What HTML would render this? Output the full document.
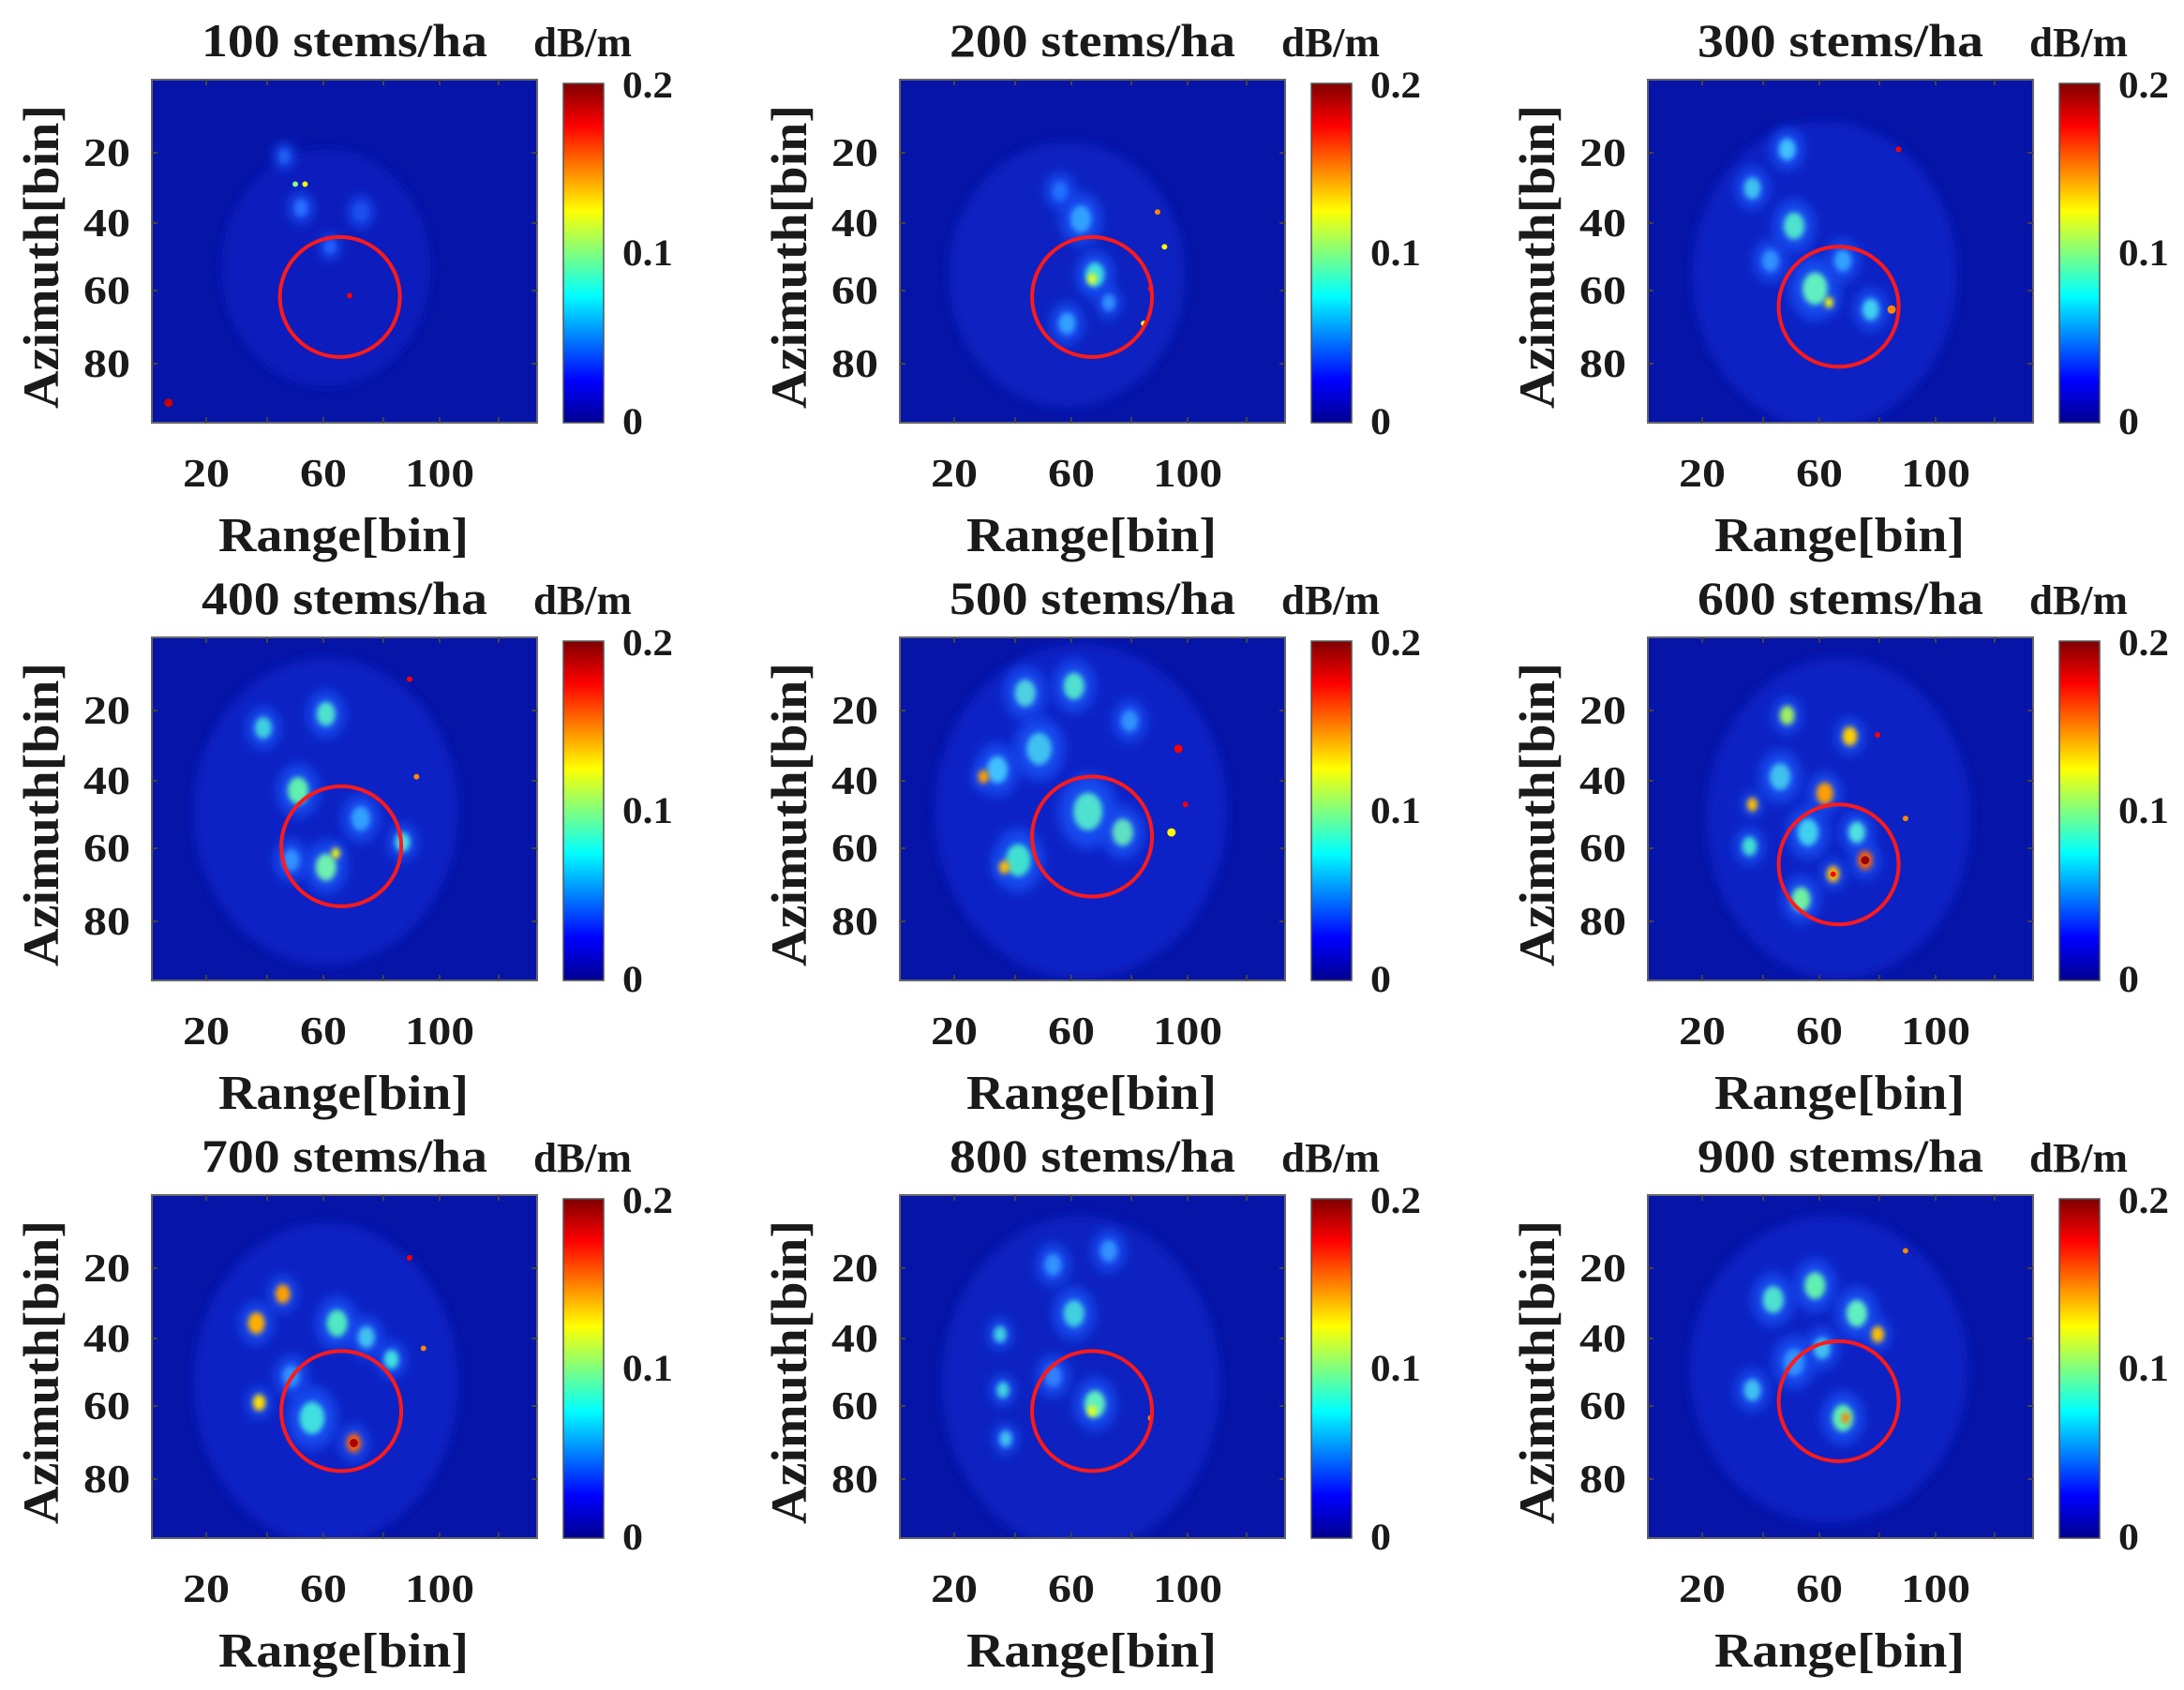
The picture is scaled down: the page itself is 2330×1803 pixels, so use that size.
<!DOCTYPE html>
<html><head><meta charset="utf-8"><style>
html,body{margin:0;padding:0;background:#fff;width:2330px;height:1803px;overflow:hidden}
svg text{font-family:"Liberation Serif",serif;font-weight:bold;fill:#1a1a1a}
</style></head><body>
<svg id="s" width="2330" height="1803" xmlns="http://www.w3.org/2000/svg"></svg>
<script>
const S=1.486;
const D=[
 {t:"100",disc:[125,135,75,85,'#0a1ebc'],c:[135,156],b:[[95,55,5,'#2060f0'],[107,92,6,'#2a70ff'],[103,75,2,'#8f8'],[110,75,2,'#ff0'],[150,95,6,'#1a50f0'],[142,155,2,'#f00'],[12,232,3,'#c00'],[128,120,5,'#2060ff']]},
 {t:"200",disc:[120,140,85,95,'#0a20c0'],c:[138,156],b:[[130,100,10,'#30a0ff'],[140,140,9,'#40e0e0'],[138,143,4,'#ff0'],[120,175,8,'#30a0ff'],[150,160,6,'#3090ff'],[115,80,7,'#2070ff'],[185,95,2,'#f80'],[190,120,2,'#ff0'],[180,150,2,'#f00'],[175,175,2,'#ff0']]},
 {t:"300",disc:[127,140,95,110,'#0a22c4'],c:[137,163],b:[[75,78,8,'#40c0f0'],[100,50,8,'#40c0ff'],[105,105,10,'#50e0d0'],[120,150,12,'#60f0c0'],[130,160,4,'#ff0'],[140,130,8,'#30a0ff'],[160,165,8,'#40d0f0'],[88,130,8,'#3090ff'],[175,165,3,'#f80'],[180,50,2,'#f00']]},
 {t:"400",disc:[125,125,95,110,'#0a22c4'],c:[136,150],b:[[80,65,8,'#40d0e0'],[125,55,9,'#50e0d0'],[105,110,10,'#60f0b0'],[125,165,10,'#70f0b0'],[132,155,4,'#ff0'],[180,147,7,'#50e0e0'],[100,160,8,'#3090ff'],[150,130,9,'#30a0ff'],[185,30,2,'#f00'],[190,100,2,'#f80']]},
 {t:"500",disc:[130,125,105,120,'#0a22c6'],c:[138,143],b:[[70,95,10,'#40c0ff'],[60,100,5,'#ffa000'],[90,40,10,'#50d0e0'],[125,35,10,'#50e0d0'],[100,80,12,'#40c0f0'],[135,125,14,'#50e0d0'],[160,140,10,'#60e0c0'],[85,160,12,'#40e0d0'],[165,60,8,'#3090ff'],[200,80,3,'#f00'],[75,165,5,'#ffc000'],[195,140,3,'#ff0'],[205,120,2,'#f00']]},
 {t:"600",disc:[137,130,95,115,'#0a22c4'],c:[137,163],b:[[156,160,7,'#ff6000'],[156,160,3,'#900'],[133,170,6,'#ffc000'],[133,170,2,'#f00'],[73,150,7,'#40e0d0'],[75,120,5,'#ffc000'],[145,71,7,'#ffd000'],[127,112,8,'#ffa000'],[100,56,7,'#a0f060'],[110,188,9,'#70f0a0'],[95,100,10,'#40c0f0'],[115,140,10,'#40d0f0'],[150,140,8,'#50e0e0'],[165,70,2,'#f00'],[185,130,2,'#f80']]},
 {t:"700",disc:[125,135,95,115,'#0a22c4'],c:[136,155],b:[[75,92,8,'#ffb000'],[94,71,7,'#ffa000'],[133,92,10,'#50e8c0'],[145,178,7,'#ff6000'],[145,178,3,'#a00'],[115,160,12,'#40e0e0'],[77,149,6,'#ffe000'],[172,118,7,'#40e0e0'],[154,102,8,'#40c0f0'],[100,130,8,'#3090ff'],[185,45,2,'#f00'],[195,110,2,'#f80']]},
 {t:"800",disc:[130,135,100,120,'#0a20c0'],c:[138,155],b:[[72,100,6,'#40d0e0'],[74,140,6,'#40d0e0'],[76,175,6,'#40c0f0'],[125,85,10,'#40d0e0'],[140,150,10,'#60f0c0'],[138,155,4,'#ff0'],[110,50,8,'#3090ff'],[150,40,8,'#3090ff'],[110,130,8,'#3080ff'],[180,160,2,'#f80']]},
 {t:"900",disc:[130,125,100,110,'#0a22c4'],c:[137,148],b:[[90,75,10,'#50e0d0'],[120,65,10,'#60f0b0'],[150,85,10,'#60f0c0'],[165,100,6,'#ffc000'],[140,160,10,'#60f0b0'],[142,160,4,'#ff8000'],[75,140,8,'#40c0f0'],[105,120,10,'#3090ff'],[125,110,8,'#40c0f0'],[185,40,2,'#f80']]}
];
let o=`<defs><linearGradient id="jet" x1="0" y1="1" x2="0" y2="0">
<stop offset="0" stop-color="#00008f"/><stop offset="0.125" stop-color="#0000ff"/><stop offset="0.375" stop-color="#00ffff"/><stop offset="0.625" stop-color="#ffff00"/><stop offset="0.875" stop-color="#ff0000"/><stop offset="1" stop-color="#800000"/></linearGradient>
<filter id="bl" x="-50%" y="-50%" width="200%" height="200%"><feGaussianBlur stdDeviation="3"/></filter>
<filter id="bh" x="-50%" y="-50%" width="200%" height="200%"><feGaussianBlur stdDeviation="6"/></filter>
<filter id="bd" x="-20%" y="-20%" width="140%" height="140%"><feGaussianBlur stdDeviation="6"/></filter></defs>`;
D.forEach((p,i)=>{
 const c=i%3,r=Math.floor(i/3);
 const L=162+798*c,T=85+595*r,W=411,H=366;
 o+=`<clipPath id="c${i}"><rect x="${L}" y="${T}" width="${W}" height="${H}"/></clipPath>`;
 o+=`<rect x="${L}" y="${T}" width="${W}" height="${H}" fill="#0614a8"/>`;
 o+=`<g clip-path="url(#c${i})">`;
 const d=p.disc;
 o+=`<ellipse cx="${L+d[0]*S}" cy="${T+d[1]*S}" rx="${d[2]*S}" ry="${d[3]*S}" fill="${d[4]}" filter="url(#bd)"/>`;
 p.b.forEach(b=>{if(b[2]>3)o+=`<ellipse cx="${L+b[0]*S}" cy="${T+b[1]*S}" rx="${b[2]*S*1.5}" ry="${b[2]*S*1.9}" fill="#1448ee" filter="url(#bh)"/>`;});
 p.b.forEach(b=>{const rr=b[2]>3?b[2]*S*0.75:b[2]*S;o+=`<ellipse cx="${L+b[0]*S}" cy="${T+b[1]*S}" rx="${rr}" ry="${b[2]>3?rr*1.3:rr}" fill="${b[3]}" ${b[2]>3?'filter="url(#bl)"':''}/>`;});
 o+=`</g>`;
 o+=`<rect x="${L}" y="${T}" width="${W}" height="${H}" fill="none" stroke="#666" stroke-width="2"/>`;
 [58,123,183,247,307,370].forEach(x=>{o+=`<line x1="${L+x}" y1="${T+H}" x2="${L+x}" y2="${T+H-6}" stroke="#444" stroke-width="2"/><line x1="${L+x}" y1="${T}" x2="${L+x}" y2="${T+6}" stroke="#444" stroke-width="2"/>`;});
 [78,153,225,303].forEach(y=>{o+=`<line x1="${L}" y1="${T+y}" x2="${L+6}" y2="${T+y}" stroke="#444" stroke-width="2"/><line x1="${L+W}" y1="${T+y}" x2="${L+W-6}" y2="${T+y}" stroke="#444" stroke-width="2"/>`;});
 o+=`<circle cx="${L+p.c[0]*S}" cy="${T+p.c[1]*S}" r="64" fill="none" stroke="#ff1a1a" stroke-width="4"/>`;
 o+=`<rect x="${L+439}" y="${T+4}" width="43" height="${H-4}" fill="url(#jet)" stroke="#555" stroke-width="1.5"/>`;
 o+=`<text x="${L+502}" y="${T+19}" font-size="40" textLength="54" lengthAdjust="spacingAndGlyphs">0.2</text>`;
 o+=`<text x="${L+502}" y="${T+198}" font-size="40" textLength="54" lengthAdjust="spacingAndGlyphs">0.1</text>`;
 o+=`<text x="${L+502}" y="${T+378}" font-size="40" textLength="22" lengthAdjust="spacingAndGlyphs">0</text>`;
 o+=`<text x="${L+53}" y="${T-25}" font-size="50" textLength="305" lengthAdjust="spacingAndGlyphs">${p.t} stems/ha</text>`;
 o+=`<text x="${L+407}" y="${T-25}" font-size="44" textLength="105" lengthAdjust="spacingAndGlyphs">dB/m</text>`;
 [["20",78],["40",153],["60",225],["80",303]].forEach(a=>{o+=`<text x="${L-73}" y="${T+a[1]+14}" font-size="42" textLength="50" lengthAdjust="spacingAndGlyphs">${a[0]}</text>`;});
 [["20",58,50],["60",183,50],["100",307,74]].forEach(a=>{o+=`<text x="${L+a[1]-a[2]/2}" y="${T+434}" font-size="42" textLength="${a[2]}" lengthAdjust="spacingAndGlyphs">${a[0]}</text>`;});
 o+=`<text x="${L+71}" y="${T+503}" font-size="52" textLength="267" lengthAdjust="spacingAndGlyphs">Range[bin]</text>`;
 o+=`<text transform="translate(${L-100},${T+351}) rotate(-90)" x="0" y="0" font-size="54" textLength="324" lengthAdjust="spacingAndGlyphs">Azimuth[bin]</text>`;
});
document.getElementById('s').innerHTML=o;
</script>
</body></html>
